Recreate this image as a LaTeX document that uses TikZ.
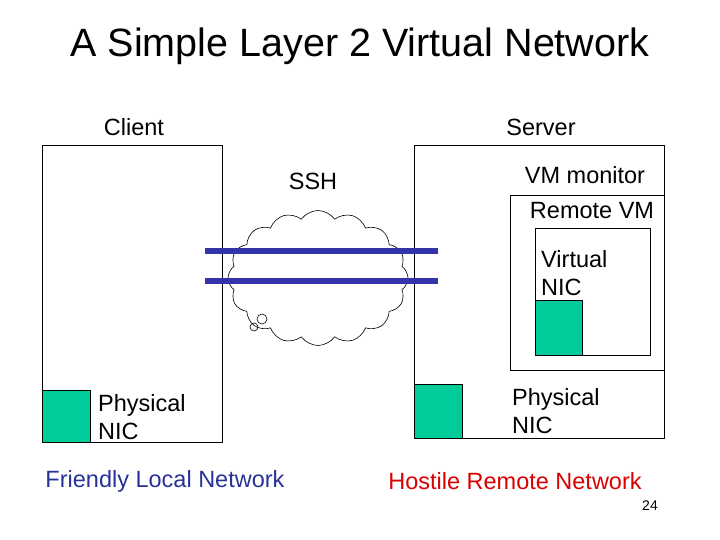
\documentclass[tikz,border=0pt]{standalone}
\usepackage{fontspec}
\setmainfont{Liberation Sans}
\usetikzlibrary{shapes.symbols}
\definecolor{nicgreen}{RGB}{0,204,153}
\definecolor{linkblue}{RGB}{51,51,170}
\definecolor{lannavy}{RGB}{40,50,150}
\begin{document}
\begin{tikzpicture}[x=1pt,y=-1pt,
  lbl/.style={font=\fontsize{23.5}{28}\selectfont, inner sep=0pt},
  box/.style={draw=black, line width=0.8pt},
  nic/.style={draw=black, line width=0.6pt, fill=nicgreen}]
\useasboundingbox (0,0) rectangle (720,540);
\node[font=\fontsize{39.5}{44}\selectfont] (title) at (360,46) {A Simple Layer 2 Virtual Network};
\node[lbl] (client) at (134,127) {Client};
\node[lbl] (server) at (541,127) {Server};
\node[box, minimum width=180, minimum height=297, anchor=north west, inner sep=0] (cbox) at (42,145) {};
\node[nic, minimum width=48, minimum height=52, anchor=north west, inner sep=0] (cnic) at (42,390) {};
\node[lbl, align=left, anchor=west] (cniclbl) at (98,417) {Physical\\NIC};
\node[box, minimum width=250, minimum height=293, anchor=north west, inner sep=0] (sbox) at (414,145) {};
\node[box, minimum width=154, minimum height=175, anchor=north west, inner sep=0] (vmbox) at (510,195) {};
\node[box, minimum width=115, minimum height=127, anchor=north west, inner sep=0] (vbox) at (535,228) {};
\node[nic, minimum width=47, minimum height=55, anchor=north west, inner sep=0] (vnic) at (535,300) {};
\node[nic, minimum width=48, minimum height=54, anchor=north west, inner sep=0] (snic) at (414,384) {};
\node[lbl] (vmm) at (585,175) {VM monitor};
\node[lbl] (rvm) at (592,211) {Remote VM};
\node[lbl, align=left, anchor=west] (vniclbl) at (541,273) {Virtual\\NIC};
\node[lbl, align=left, anchor=west] (sniclbl) at (512,411) {Physical\\NIC};
\node[lbl] (ssh) at (313,181) {SSH};
\node[cloud, draw=black, line width=0.6pt, cloud puffs=16, cloud puff arc=110, aspect=1.3, minimum width=180, minimum height=135] (cloud) at (318,278) {};
\draw[line width=0.6pt] (262,319) circle (5);
\draw[line width=0.6pt] (254,327) circle (4);
\coordinate (l1a) at (205,251); \coordinate (l1b) at (438,251);
\coordinate (l2a) at (205,281); \coordinate (l2b) at (438,281);
\draw[linkblue, line width=5.5pt] (l1a) -- (l1b);
\draw[linkblue, line width=5.5pt] (l2a) -- (l2b);
\node[lbl, text=lannavy] (friendly) at (165,481) {Friendly Local Network};
\node[lbl, text=red!85!black] (hostile) at (515,481) {Hostile Remote Network};
\node[font=\fontsize{14}{16}\selectfont] (page) at (650,506) {24};
\end{tikzpicture}
\end{document}
